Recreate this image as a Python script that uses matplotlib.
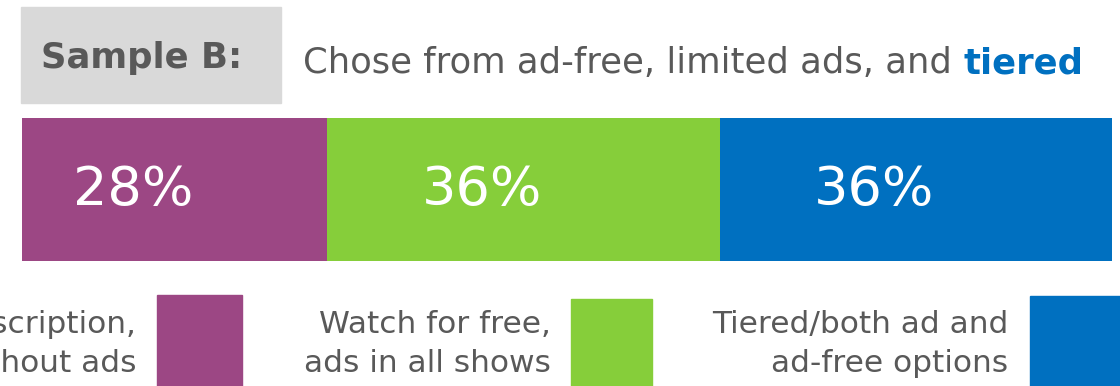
import matplotlib
matplotlib.use("Agg")
import matplotlib.pyplot as plt
from matplotlib.patches import Rectangle

plt.rcParams["font.family"] = ["DejaVu Sans"]

# data
shares = [28, 36, 36]
share_labels = ["28%", "36%", "36%"]
legend_labels = ["Paid subscription,\nwithout ads",
                 "Watch for free,\nads in all shows",
                 "Tiered/both ad and\nad-free options"]
colors = ["#9C4784", "#86CE3A", "#0070C0"]

TEXT_GRAY = "#595959"
W, H = 1120, 386

fig = plt.figure(figsize=(W / 100, H / 100), dpi=100)
fig.patch.set_facecolor("white")


def fx(px):
    return px / W


def fy(py):
    return 1 - py / H


# header: grey label box + subtitle
fig.patches.append(Rectangle((fx(21), fy(103)), fx(260), 96 / H,
                             transform=fig.transFigure, color="#D9D9D9", zorder=0))
fig.text(fx(142), fy(58), "Sample B:", ha="center", va="center",
         fontsize=25.5, fontweight="bold", color=TEXT_GRAY)
t = fig.text(fx(303), fy(73), "Chose from ad-free, limited ads, and ",
             ha="left", va="baseline", fontsize=25.5, color=TEXT_GRAY)

# stacked bar
ax = fig.add_axes([fx(22), fy(261), fx(1090), 143 / H])
left = 0
for v, lab, c in zip(shares, share_labels, colors):
    ax.barh(0, v, left=left, height=1, color=c, edgecolor="none")
    ax.text(left + v / 2 - 3.8, 0, lab, ha="center", va="center",
            fontsize=39, color="white")
    left += v
ax.set_xlim(0, 100)
ax.set_ylim(-0.5, 0.5)
ax.axis("off")

# legend row
swatches = [(157, 295, 85), (571, 299, 81), (1030, 296, 90)]
text_right = [136, 551, 1008]
for (sx, sy, sw), tr, lab, c in zip(swatches, text_right, legend_labels, colors):
    fig.patches.append(Rectangle((fx(sx), fy(H)), fx(sw), (H - sy) / H,
                                 transform=fig.transFigure, color=c, zorder=1))
    fig.text(fx(tr), fy(344), lab, ha="right", va="center", multialignment="right",
             fontsize=22.5, color=TEXT_GRAY, linespacing=1.4)

# place the bold blue word right after the subtitle
fig.canvas.draw()
bb = t.get_window_extent()
fig.text(bb.x1 / W, fy(73), "tiered", ha="left", va="baseline",
         fontsize=25.5, fontweight="bold", color="#0070C0")

fig.savefig("out.png", dpi=100, facecolor="white")
